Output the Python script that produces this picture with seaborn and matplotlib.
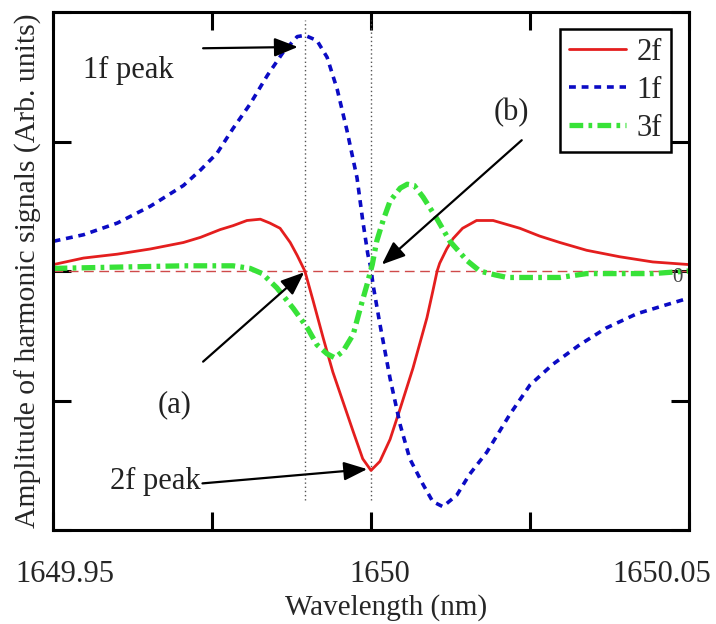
import numpy as np
import pandas as pd
import matplotlib
matplotlib.use("Agg")
import matplotlib.pyplot as plt
import matplotlib.transforms as mtransforms
import seaborn as sns

# Centre wavelength of the absorption line (nm)
CENTER_NM = 1650.0

# 2f harmonic: detuning from line centre (nm) and amplitude (arb. units)
det_2f = [-0.0499, -0.0452, -0.0399, -0.0347, -0.0295, -0.0268, -0.0237, -0.0217,
          -0.0195, -0.0174, -0.0159, -0.0143, -0.0127, -0.0116, -0.0104, -0.0091,
          -0.0075, -0.0060, -0.0044, -0.0028, -0.0013, 0.0000, 0.0014, 0.0030,
          0.0046, 0.0066, 0.0088, 0.0097, 0.0104, 0.0108, 0.0119, 0.0129,
          0.0144, 0.0166, 0.0192, 0.0213, 0.0234, 0.0265, 0.0297, 0.0339,
          0.0391, 0.0443, 0.0499]
amp_2f = [0.05, 0.10, 0.13, 0.17, 0.22, 0.26, 0.32, 0.35,
          0.39, 0.40, 0.37, 0.33, 0.22, 0.12, 0.00, -0.23,
          -0.52, -0.78, -1.01, -1.24, -1.45, -1.54, -1.47, -1.30,
          -1.06, -0.75, -0.36, -0.16, 0.00, 0.06, 0.17, 0.25,
          0.33, 0.39, 0.39, 0.36, 0.33, 0.27, 0.22, 0.16,
          0.11, 0.07, 0.05]

# 1f harmonic
det_1f = [-0.0499, -0.0452, -0.0399, -0.0347, -0.0295, -0.0268, -0.0242, -0.0217,
          -0.0190, -0.0163, -0.0138, -0.0116, -0.0104, -0.0085, -0.0069, -0.0053,
          -0.0038, -0.0022, -0.0013, -0.0005, 0.0000, 0.0003, 0.0014, 0.0030,
          0.0046, 0.0061, 0.0082, 0.0097, 0.0113, 0.0135, 0.0155, 0.0182,
          0.0218, 0.0250, 0.0286, 0.0328, 0.0370, 0.0418, 0.0465, 0.0499]
amp_1f = [0.23, 0.28, 0.37, 0.50, 0.66, 0.78, 0.91, 1.10,
          1.29, 1.51, 1.69, 1.81, 1.82, 1.78, 1.65, 1.40,
          1.09, 0.72, 0.39, 0.13, 0.02, -0.10, -0.41, -0.83,
          -1.19, -1.45, -1.65, -1.78, -1.82, -1.73, -1.57, -1.40,
          -1.11, -0.88, -0.72, -0.57, -0.44, -0.33, -0.26, -0.21]

# 3f harmonic
det_3f = [-0.0499, -0.0399, -0.0295, -0.0217, -0.0190, -0.0171, -0.0148, -0.0122,
          -0.0100, -0.0085, -0.0069, -0.0057, -0.0044, -0.0028, -0.0017, -0.0006,
          0.0002, 0.0009, 0.0019, 0.0030, 0.0046, 0.0057, 0.0068, 0.0082,
          0.0104, 0.0124, 0.0151, 0.0171, 0.0195, 0.0214, 0.0250, 0.0297,
          0.0339, 0.0391, 0.0443, 0.0499]
amp_3f = [0.02, 0.03, 0.04, 0.04, 0.02, -0.02, -0.13, -0.29,
          -0.44, -0.57, -0.64, -0.67, -0.62, -0.49, -0.29, -0.10,
          0.05, 0.23, 0.39, 0.54, 0.64, 0.67, 0.66, 0.57,
          0.40, 0.23, 0.08, 0.00, -0.03, -0.05, -0.05, -0.05,
          -0.02, -0.02, -0.02, 0.00]

series_names = ["2f", "1f", "3f"]
tick_values = [1649.95, 1649.975, 1650.0, 1650.025, 1650.05]
tick_labels = ["1649.95", "", "1650", "", "1650.05"]

sns.set_theme(style="white")
plt.rcParams["font.family"] = ["Liberation Serif", "DejaVu Serif"]

fig = plt.figure(figsize=(7.16, 6.24), dpi=100)
ax = fig.add_axes([53 / 716, 94 / 624, 636 / 716, 518 / 624])

styles = {
    "2f": dict(color="#e41e1e", lw=2.0, linestyle="-"),
    "1f": dict(color="#0b0bc4", lw=2.6, linestyle=(0, (1.9, 1.6))),
    "3f": dict(color="#38e238", lw=3.8, linestyle=(0, (2.6, 1.0, 0.7, 1.0))),
}
data = {"2f": (det_2f, amp_2f), "1f": (det_1f, amp_1f), "3f": (det_3f, amp_3f)}

handles = []
for name in series_names:
    d, a = data[name]
    df = pd.DataFrame({"wavelength": CENTER_NM + np.asarray(d), "amplitude": a})
    sns.lineplot(data=df, x="wavelength", y="amplitude", ax=ax, sort=False,
                 estimator=None, label=name, **styles[name])
    handles.append(ax.lines[-1])

# reference lines
ax.axhline(0, color="#cf4a4a", lw=1.0, linestyle=(0, (7, 4)), zorder=1)
ax.vlines([CENTER_NM - 0.0104, CENTER_NM], -1.77, 1.94, colors="#555555",
          lw=1.0, linestyles=(0, (1, 2)), zorder=1)

ax.set_xlim(1649.95, 1650.05)
ax.set_ylim(-2, 2)
ax.set_xticks(tick_values)
ax.set_xticklabels(tick_labels, fontsize=22)
ax.set_yticks([-2, -1, 0, 1, 2])
ax.set_yticklabels([])
ax.tick_params(axis="both", direction="in", length=13, width=2.2, color="black",
               top=True, right=True, bottom=True, left=True)
ax.tick_params(axis="x", pad=21.5)

# shift the tick labels sideways
offsets_px = [12, 0, 9, 0, -27]
for lab, dx in zip(ax.get_xticklabels(), offsets_px):
    lab.set_transform(lab.get_transform() +
                      mtransforms.ScaledTranslation(dx / 100, 0, fig.dpi_scale_trans))

for sp in ax.spines.values():
    sp.set_linewidth(2.2)
    sp.set_color("black")

ax.set_xlabel("Wavelength (nm)", fontsize=21)
ax.set_ylabel("Amplitude of harmonic signals (Arb. units)", fontsize=21.3)
ax.yaxis.set_label_coords(-0.017, 0.5)
ax.xaxis.set_label_coords(0.524, -0.124)

leg = ax.legend(handles=handles, labels=series_names, loc="upper right",
                bbox_to_anchor=(0.972, 0.968), borderaxespad=0, fontsize=22,
                frameon=True, fancybox=False, framealpha=1, edgecolor="black",
                handlelength=1.86, handletextpad=0.36, labelspacing=0.3,
                borderpad=0.3)
leg.get_frame().set_linewidth(1.8)

ax.text(CENTER_NM + 0.0482, -0.05, "0", fontsize=15, color="#444444",
        ha="center", va="center")

# annotation texts
ax.text(CENTER_NM - 0.0381, 1.49, "1f peak", fontsize=22, ha="center", va="baseline", color="#222222")
ax.text(CENTER_NM + 0.0220, 1.22, "(b)", fontsize=22, ha="center", va="center", color="#222222")
ax.text(CENTER_NM - 0.0309, -1.03, "(a)", fontsize=22, ha="center", va="center", color="#222222")
ax.text(CENTER_NM - 0.0339, -1.68, "2f peak", fontsize=22, ha="center", va="baseline", color="#222222")

arrow_kw = dict(arrowstyle="-|>,head_length=0.55,head_width=0.22", color="black",
                lw=1.6, shrinkA=0, shrinkB=0, mutation_scale=26)
arrows = [((CENTER_NM - 0.0115, 1.73), (CENTER_NM - 0.0264, 1.72)),
          ((CENTER_NM + 0.0017, 0.05), (CENTER_NM + 0.0237, 1.01)),
          ((CENTER_NM - 0.0105, -0.01), (CENTER_NM - 0.0264, -0.70)),
          ((CENTER_NM - 0.0006, -1.53), (CENTER_NM - 0.0265, -1.64))]
for tip, tail in arrows:
    ax.annotate("", xy=tip, xytext=tail, arrowprops=arrow_kw)

fig.savefig("out.png", dpi=100, facecolor="white")
